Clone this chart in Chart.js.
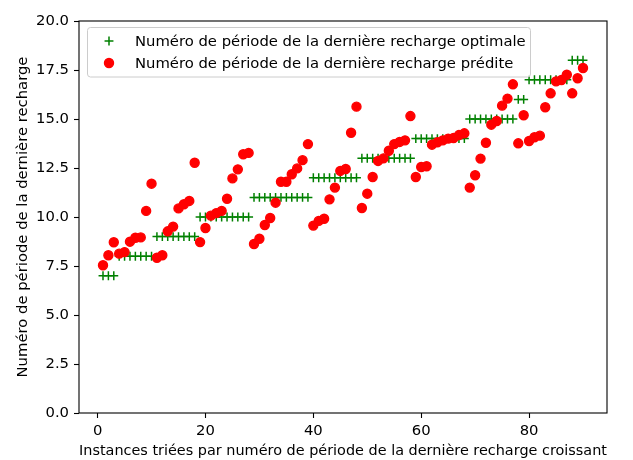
<!DOCTYPE html>
<html lang="fr">
<head>
<meta charset="utf-8">
<title>Dernière recharge : optimale vs prédite</title>
<script src="https://cdn.jsdelivr.net/npm/chart.js@4.4.0/dist/chart.umd.min.js"></script>
<style>
  html, body { margin: 0; padding: 0; background: #ffffff; }
  #c { display: block; }
</style>
</head>
<body>
<canvas id="c" width="633" height="460"></canvas>
<script>
// Instances 1..90, sorted by optimal last-recharge period
const instances = Array.from({ length: 90 }, (_, i) => i + 1);

// Optimal last-recharge period per instance
const optimalPeriod = [
  7, 7, 7,
  8, 8, 8, 8, 8, 8, 8,
  9, 9, 9, 9, 9, 9, 9, 9,
  10, 10, 10, 10, 10, 10, 10, 10, 10, 10,
  11, 11, 11, 11, 11, 11, 11, 11, 11, 11, 11,
  12, 12, 12, 12, 12, 12, 12, 12, 12,
  13, 13, 13, 13, 13, 13, 13, 13, 13, 13,
  14, 14, 14, 14, 14, 14, 14, 14, 14, 14,
  15, 15, 15, 15, 15, 15, 15, 15, 15,
  16, 16,
  17, 17, 17, 17, 17, 17, 17, 17,
  18, 18, 18
];

// Predicted last-recharge period per instance
const predictedPeriod = [
  7.54, 8.05, 8.71, 8.13, 8.21, 8.74, 8.94, 8.96, 10.31, 11.70,
  7.92, 8.05, 9.27, 9.51, 10.44, 10.65, 10.82, 12.77, 8.72, 9.44,
  10.07, 10.20, 10.31, 10.93, 11.97, 12.43, 13.20, 13.27, 8.62, 8.89,
  9.59, 9.95, 10.73, 11.80, 11.80, 12.18, 12.48, 12.90, 13.72, 9.56,
  9.80, 9.91, 10.90, 11.50, 12.35, 12.45, 14.30, 15.63, 10.46, 11.19,
  12.04, 12.86, 12.99, 13.38, 13.72, 13.83, 13.91, 15.15, 12.04, 12.55,
  12.59, 13.69, 13.81, 13.91, 14.00, 14.03, 14.18, 14.27, 11.50, 12.13,
  12.98, 13.79, 14.71, 14.90, 15.68, 16.04, 16.77, 13.76, 15.19, 13.88,
  14.07, 14.15, 15.60, 16.31, 16.92, 16.99, 17.26, 16.31, 17.08, 17.60
];

const xTicks = [0, 20, 40, 60, 80];
const yTicks = [0, 2.5, 5, 7.5, 10, 12.5, 15, 17.5, 20];

const labelOptimal = 'Numéro de période de la dernière recharge optimale';
const labelPredicted = 'Numéro de période de la dernière recharge prédite';
const xTitle = 'Instances triées par numéro de période de la dernière recharge croissant';
const yTitle = 'Numéro de période de la dernière recharge';

const FONT = 'DejaVu Sans';
const FS = 14.8;

// Axes frame drawn on all four sides of the plot area
const framePlugin = {
  id: 'frame',
  afterDraw(chart) {
    const { ctx, chartArea: a } = chart;
    ctx.save();
    ctx.strokeStyle = '#000000';
    ctx.lineWidth = 1.1;
    ctx.strokeRect(a.left, a.top, a.right - a.left, a.bottom - a.top);
    ctx.restore();
  }
};

// Boxed legend in the upper-left corner of the plot area
const insetLegend = {
  id: 'insetLegend',
  afterDraw(chart) {
    const { ctx, chartArea: a } = chart;
    const x0 = a.left + 8.5, y0 = a.top + 6.5, w = 443, h = 49.5, r = 3;
    ctx.save();
    ctx.beginPath();
    ctx.roundRect(x0, y0, w, h, r);
    ctx.fillStyle = 'rgba(255,255,255,0.8)';
    ctx.fill();
    ctx.strokeStyle = '#cccccc';
    ctx.lineWidth = 1;
    ctx.stroke();

    const rows = [y0 + 13.5, y0 + 35.5];
    const mx = x0 + 21.5, tx = x0 + 47.5;
    chart.data.datasets.forEach((ds, i) => {
      const y = rows[i];
      ctx.strokeStyle = ds.borderColor;
      ctx.fillStyle = ds.backgroundColor;
      ctx.lineWidth = ds.borderWidth;
      if (ds.pointStyle === 'cross') {
        const s = ds.pointRadius;
        ctx.beginPath();
        ctx.moveTo(mx - s, y); ctx.lineTo(mx + s, y);
        ctx.moveTo(mx, y - s); ctx.lineTo(mx, y + s);
        ctx.stroke();
      } else {
        ctx.beginPath();
        ctx.arc(mx, y, ds.pointRadius, 0, Math.PI * 2);
        ctx.fill();
        ctx.stroke();
      }
      ctx.fillStyle = '#000000';
      ctx.font = `${FS}px "${FONT}"`;
      ctx.textBaseline = 'middle';
      ctx.textAlign = 'left';
      ctx.fillText(ds.label, tx, y + 1);
    });
    ctx.restore();
  }
};

new Chart(document.getElementById('c'), {
  type: 'scatter',
  data: {
    datasets: [
      {
        label: labelOptimal,
        data: instances.map((x, i) => ({ x, y: optimalPeriod[i] })),
        pointStyle: 'cross',
        pointRadius: 4.45,
        borderWidth: 1.5,
        borderColor: '#008000',
        backgroundColor: '#008000',
        order: 1
      },
      {
        label: labelPredicted,
        data: instances.map((x, i) => ({ x, y: predictedPeriod[i] })),
        pointStyle: 'circle',
        pointRadius: 4.5,
        borderWidth: 1.4,
        borderColor: '#ff0000',
        backgroundColor: '#ff0000',
        order: 0
      }
    ]
  },
  options: {
    responsive: false,
    animation: false,
    devicePixelRatio: 1,
    layout: { padding: { top: 21, right: 26, left: 0, bottom: 0 } },
    plugins: {
      legend: { display: false },
      tooltip: { enabled: false }
    },
    elements: { point: { hoverRadius: 4.5 } },
    scales: {
      x: {
        type: 'linear',
        min: -3.45,
        max: 94.45,
        afterBuildTicks: s => { s.ticks = xTicks.map(v => ({ value: v })); },
        afterFit: s => { s.height = 47; },
        border: { display: false },
        grid: {
          drawOnChartArea: false,
          drawTicks: true,
          tickLength: 5,
          tickWidth: 1.1,
          tickColor: '#000000'
        },
        ticks: {
          color: '#000000',
          padding: 4,
          maxRotation: 0,
          font: { family: FONT, size: FS },
          callback: v => String(v)
        },
        title: {
          display: true,
          text: xTitle,
          color: '#000000',
          font: { family: FONT, size: FS, lineHeight: 1.2 },
          padding: { top: 0, bottom: 0 }
        }
      },
      y: {
        type: 'linear',
        min: 0,
        max: 20,
        afterBuildTicks: s => { s.ticks = yTicks.map(v => ({ value: v })); },
        afterFit: s => { s.width = 79; },
        border: { display: false },
        grid: {
          drawOnChartArea: false,
          drawTicks: true,
          tickLength: 5,
          tickWidth: 1.1,
          tickColor: '#000000'
        },
        ticks: {
          color: '#000000',
          padding: 5,
          font: { family: FONT, size: FS },
          callback: v => v.toFixed(1)
        },
        title: {
          display: true,
          text: yTitle,
          color: '#000000',
          font: { family: FONT, size: FS, lineHeight: 1.2 },
          padding: { top: 14, bottom: 0 }
        }
      }
    }
  },
  plugins: [framePlugin, insetLegend]
});
</script>
</body>
</html>
